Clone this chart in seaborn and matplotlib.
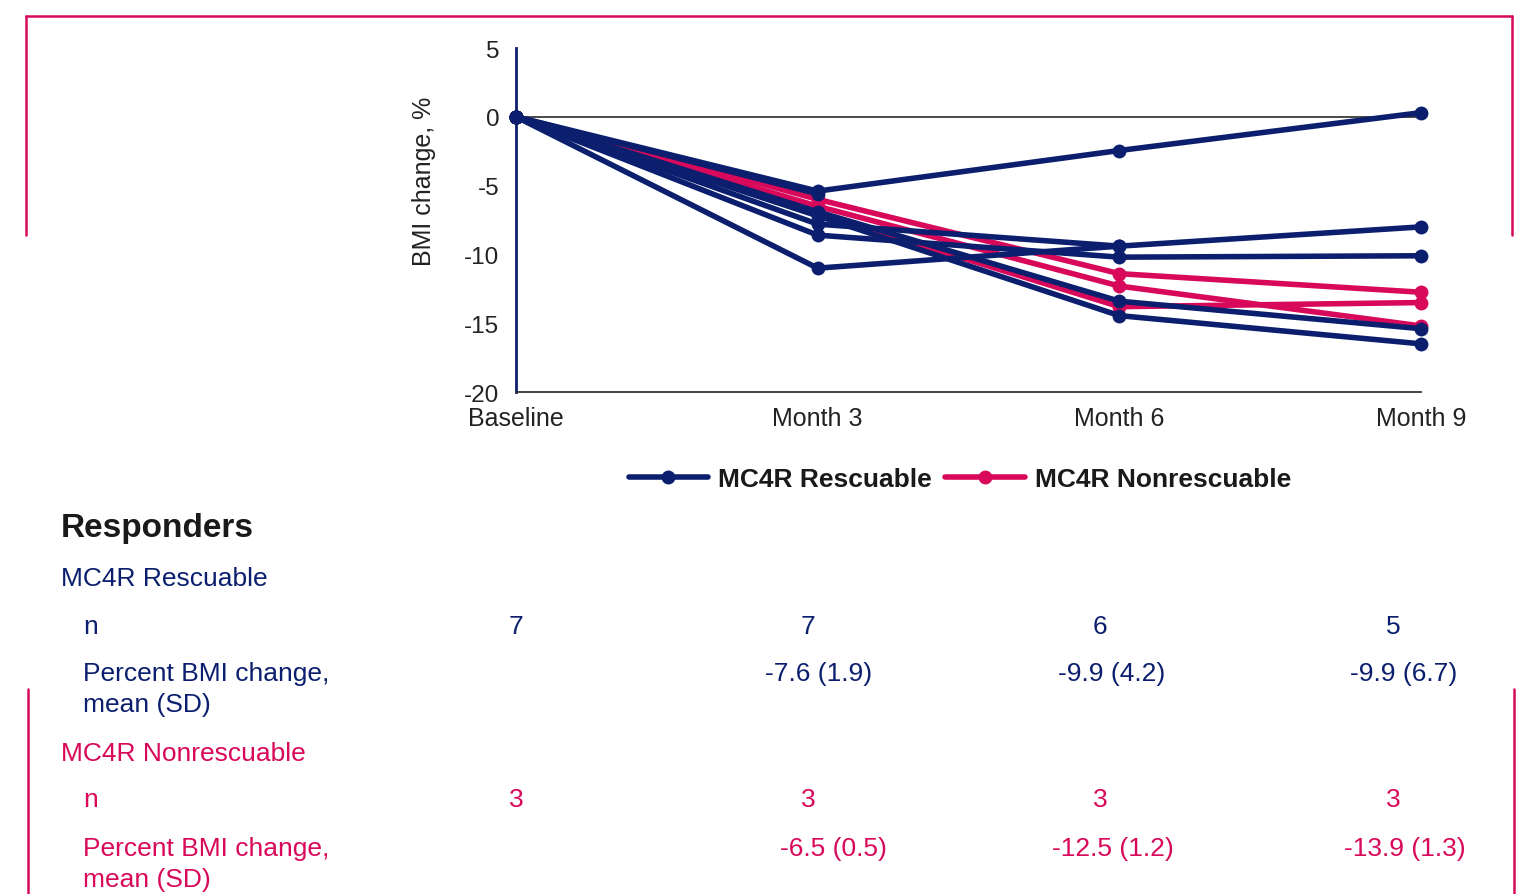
import numpy as np
import pandas as pd
import matplotlib
matplotlib.use("Agg")
import matplotlib.pyplot as plt
import seaborn as sns
from matplotlib.lines import Line2D

# ================================
# DATA
# ================================
visits = ["Baseline", "Month 3", "Month 6", "Month 9"]

# % BMI change per patient, nan = no visit
rescuable = [
    [0, -5.4, -2.45, 0.3],
    [0, -6.9, -13.4, -15.4],
    [0, -7.2, -14.45, -16.5],
    [0, -7.8, -9.4, -8.0],
    [0, -8.6, -10.2, -10.1],
    [0, -11.0, -9.4, np.nan],
    [0, -5.6, np.nan, np.nan],
]
nonrescuable = [
    [0, -6.0, -11.4, -12.75],
    [0, -6.5, -12.3, -15.2],
    [0, -7.0, -13.8, -13.5],
]

res_n = ["7", "7", "6", "5"]
res_mean = ["", "-7.6 (1.9)", "-9.9 (4.2)", "-9.9 (6.7)"]
non_n = ["3", "3", "3", "3"]
non_mean = ["", "-6.5 (0.5)", "-12.5 (1.2)", "-13.9 (1.3)"]

NAVY = "#0b1f6e"
PINK = "#d8085a"
colors = {"MC4R Rescuable": NAVY, "MC4R Nonrescuable": PINK}

rows = []
for grp, pts in [("MC4R Rescuable", rescuable), ("MC4R Nonrescuable", nonrescuable)]:
    for i, vals in enumerate(pts):
        for j, v in enumerate(vals):
            rows.append({"group": grp, "patient": f"{grp}-{i}", "visit": j, "bmi": v})
df = pd.DataFrame(rows).dropna()

# ================================
# FIGURE
# ================================
sns.set_style("white")
plt.rcParams["font.family"] = ["Liberation Sans", "DejaVu Sans"]
plt.rcParams["axes.unicode_minus"] = False

W, H = 1527, 895
fig = plt.figure(figsize=(W / 100, H / 100), dpi=100)

def px(x, y):
    return x / W, 1 - y / H

ax = fig.add_axes([516 / W, 1 - 393 / H, (1421 - 516) / W, (393 - 49) / H])
ax.axhline(0, color="#3a3a3a", lw=1.3, zorder=1)

# red first so blue sits on top
for grp in ["MC4R Nonrescuable", "MC4R Rescuable"]:
    sns.lineplot(
        data=df[df["group"] == grp], x="visit", y="bmi", units="patient",
        estimator=None, color=colors[grp], lw=4, marker="o", ms=10,
        markeredgecolor=colors[grp], markeredgewidth=0, clip_on=False,
        legend=False, ax=ax, zorder=3,
    )

ax.set_xlim(0, 3)
ax.set_ylim(-20, 5)
yt = list(range(-20, 6, 5))
ax.set_yticks(yt)
ax.set_yticklabels([str(v) for v in yt], fontsize=17.5, color="#222222")
ax.set_xticks(range(len(visits)))
ax.set_xticklabels(visits, fontsize=18, color="#222222")
ax.tick_params(axis="y", length=6, width=1.2, color="#444444", pad=6)
ax.tick_params(axis="x", length=6, width=1.2, color="#444444", pad=4)
ax.set_xlabel("")
ax.set_ylabel("BMI change, %", fontsize=18, color="#222222")
ax.yaxis.set_label_coords(-0.088, 0.616)
for s in ["top", "right"]:
    ax.spines[s].set_visible(False)
ax.spines["left"].set_color(NAVY)
ax.spines["left"].set_linewidth(2)
ax.spines["bottom"].set_color("#333333")
ax.spines["bottom"].set_linewidth(1.3)

# legend
handles = [Line2D([0], [0], color=colors[g], lw=4, marker="o", ms=10, mew=0)
           for g in ["MC4R Rescuable", "MC4R Nonrescuable"]]
fig.legend(handles, ["MC4R Rescuable", "MC4R Nonrescuable"], ncol=2,
           loc="center", bbox_to_anchor=px(960, 480), frameon=False,
           prop={"weight": "bold", "size": 19}, handlelength=3.0,
           handletextpad=0.4, columnspacing=0.5, labelcolor="#1a1a1a")

# ================================
# TABLE BELOW
# ================================
fig.text(*px(61, 528), "Responders", fontsize=24, weight="bold", color="#1a1a1a", va="center")
fig.text(*px(61, 579), "MC4R Rescuable", fontsize=19, color=NAVY, va="center")
fig.text(*px(83, 627), "n", fontsize=19, color=NAVY, va="center")
fig.text(*px(83, 674), "Percent BMI change,", fontsize=19, color=NAVY, va="center")
fig.text(*px(83, 705), "mean (SD)", fontsize=19, color=NAVY, va="center")
fig.text(*px(61, 754), "MC4R Nonrescuable", fontsize=19, color=PINK, va="center")
fig.text(*px(83, 800), "n", fontsize=19, color=PINK, va="center")
fig.text(*px(83, 849), "Percent BMI change,", fontsize=19, color=PINK, va="center")
fig.text(*px(83, 880), "mean (SD)", fontsize=19, color=PINK, va="center")

n_x = [516, 808, 1100, 1393]
res_mean_x = [516, 819, 1112, 1404]
non_mean_x = [516, 833, 1113, 1405]
for i in range(len(visits)):
    fig.text(*px(n_x[i], 627), res_n[i], fontsize=19, color=NAVY, ha="center", va="center")
    fig.text(*px(res_mean_x[i], 674), res_mean[i], fontsize=19, color=NAVY, ha="center", va="center")
    fig.text(*px(n_x[i], 800), non_n[i], fontsize=19, color=PINK, ha="center", va="center")
    fig.text(*px(non_mean_x[i], 849), non_mean[i], fontsize=19, color=PINK, ha="center", va="center")

# pink frame pieces
frame = [
    [(26, 17), (1512, 17)],
    [(26, 17), (26, 236)],
    [(1512, 17), (1512, 236)],
    [(28, 690), (28, 895)],
    [(1514, 690), (1514, 895)],
]
for (x1, y1), (x2, y2) in frame:
    a, b = px(x1, y1)
    c, d = px(x2, y2)
    fig.add_artist(Line2D([a, c], [b, d], transform=fig.transFigure, color=PINK, lw=1.8))

fig.savefig("out.png", dpi=100)
